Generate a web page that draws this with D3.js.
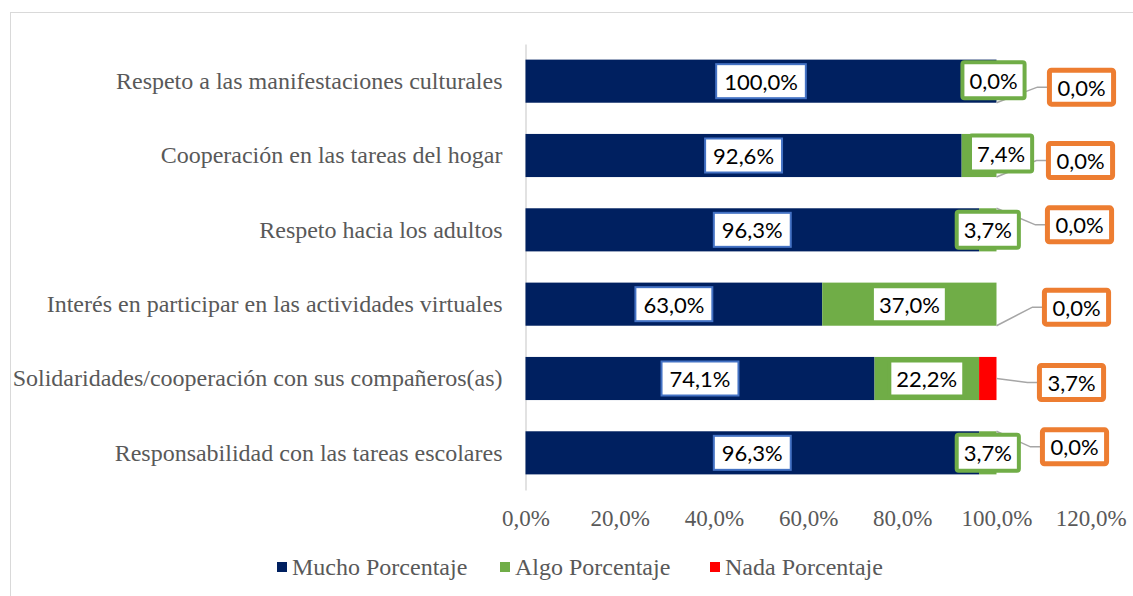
<!DOCTYPE html>
<html lang="es">
<head>
  <meta charset="UTF-8">
  <title>Mucho / Algo / Nada Porcentaje</title>
  <script src="https://d3js.org/d3.v7.min.js"></script>
  <style>
    body { margin: 0; background: #fff; }
    svg { display: block; }
  </style>
</head>
<body>
  <svg width="1133" height="596"></svg>

  <script>
    // datos (de arriba hacia abajo)
    const categories = [
      "Respeto a las manifestaciones culturales",
      "Cooperación en las tareas del hogar",
      "Respeto hacia los adultos",
      "Interés en participar en las actividades virtuales",
      "Solidaridades/cooperación con sus compañeros(as)",
      "Responsabilidad con las tareas escolares"
    ];
    const mucho = [100.0, 92.6, 96.3, 63.0, 74.1, 96.3];
    const algo  = [0.0, 7.4, 3.7, 37.0, 22.2, 3.7];
    const nada  = [0.0, 0.0, 0.0, 0.0, 3.7, 0.0];
    const seriesNames = ["Mucho Porcentaje", "Algo Porcentaje", "Nada Porcentaje"];
    const xTicks = [0, 20, 40, 60, 80, 100, 120];

    // desplazamiento manual de etiquetas (como en la hoja original)
    const algoNudge = [[-3, -1], [22, -2], [0, 0], [0, 0], [0, 0], [0, 0]];
    const nadaNudge = [[85, 6], [84, 5], [83, -5], [80, 3], [75, 4], [78, -6]];

    const colors = ["#002060", "#70AD47", "#FF0000"];
    const boxStroke = ["#4472C4", "#70AD47", "#ED7D31"];

    const svg = d3.select("svg");
    const serif = "'Liberation Serif', 'Times New Roman', serif";
    const sans = "Lato, 'Open Sans', sans-serif";

    // marco del gráfico
    svg.append("rect")
       .attr("x", 10.5).attr("y", 12.5)
       .attr("width", 1140).attr("height", 600)
       .attr("fill", "none").attr("stroke", "#D9D9D9");

    const x = d3.scaleLinear().domain([0, 120]).range([525.5, 1090.7]);
    const y = d3.scaleBand().domain(categories).range([44, 490])
                .paddingInner(0.42).paddingOuter(0.21);

    const rows = categories.map((c, i) => ({ cat: c, m: mucho[i], a: algo[i], n: nada[i] }));
    const stack = d3.stack().keys(["m", "a", "n"]);
    const layers = stack(rows);

    const fmt = d3.formatLocale({ decimal: ",", thousands: ".", grouping: [3], currency: ["", "€"] }).format(".1f");

    // eje X (solo etiquetas)
    const xAxis = svg.append("g")
      .attr("transform", "translate(0,490)")
      .call(d3.axisBottom(x).tickValues(xTicks).tickSize(0).tickPadding(20).tickFormat(d => fmt(d) + "%"));
    xAxis.select(".domain").remove();
    xAxis.selectAll("text").attr("font-family", serif).attr("font-size", 23).attr("fill", "#595959");

    // eje Y con categorías
    const yAxis = svg.append("g")
      .attr("transform", "translate(" + x(0) + ",0)")
      .call(d3.axisLeft(y).tickSize(0).tickSizeOuter(0).tickPadding(23));
    yAxis.select(".domain").attr("stroke", "#D9D9D9").attr("stroke-width", 1.5);
    yAxis.selectAll("text").attr("font-family", serif).attr("font-size", 24).attr("fill", "#595959");

    // barras apiladas
    svg.append("g").selectAll("g")
      .data(layers).join("g")
        .attr("fill", (d, i) => colors[i])
      .selectAll("rect")
      .data(d => d).join("rect")
        .attr("x", d => x(d[0]))
        .attr("y", d => y(d.data.cat))
        .attr("width", d => x(d[1]) - x(d[0]))
        .attr("height", y.bandwidth());

    const bw = y.bandwidth();
    const cy = c => y(c) + bw / 2;

    const nadaPos = layers[2].map((d, i) => ({
      d: d, i: i,
      cx: x(d[1]) + nadaNudge[i][0],
      cy: cy(d.data.cat) + nadaNudge[i][1]
    }));

    // cuadros de etiquetas
    function labelBox(g, text, cxp, cyp, k) {
      const t = g.append("text")
        .attr("x", cxp).attr("y", cyp)
        .attr("text-anchor", "middle").attr("dominant-baseline", "central")
        .attr("font-family", sans).attr("font-size", 22).attr("fill", "#000")
        .text(text);
      const tw = t.node().getComputedTextLength();
      const pad = [16, 14, 16][k];
      const h = [34, 36, 34][k];
      const sw = [2, 4, 5][k];
      g.insert("rect", "text")
        .attr("x", cxp - (tw + pad) / 2).attr("y", cyp - h / 2)
        .attr("width", tw + pad).attr("height", h)
        .attr("fill", "#fff").attr("stroke", boxStroke[k]).attr("stroke-width", sw)
        .attr("rx", k === 0 ? 0 : 2);
      return tw + pad;
    }

    // líneas guía para las etiquetas de "Nada"
    const leaders = svg.append("g").attr("fill", "none").attr("stroke", "#A6A6A6").attr("stroke-width", 1.5);

    // Mucho
    layers[0].forEach(d => {
      const g = svg.append("g");
      labelBox(g, fmt(d.data.m) + "%", (x(d[0]) + x(d[1])) / 2, cy(d.data.cat), 0);
    });

    // Algo
    layers[1].forEach((d, i) => {
      const g = svg.append("g");
      labelBox(g, fmt(d.data.a) + "%", (x(d[0]) + x(d[1])) / 2 + algoNudge[i][0], cy(d.data.cat) + algoNudge[i][1], 1);
    });

    // Nada (con línea guía)
    nadaPos.forEach(p => {
      const g = svg.append("g");
      const w = labelBox(g, fmt(p.d.data.n) + "%", p.cx, p.cy, 2);
      const left = p.cx - w / 2 - 2;
      const x0 = x(p.d[1]);
      const y0 = p.d.data.n > 0 ? cy(p.d.data.cat)
               : cy(p.d.data.cat) + (p.cy > cy(p.d.data.cat) ? bw / 2 : -bw / 2);
      leaders.append("path")
        .attr("d", d3.line()([[x0, y0], [left - 10, p.cy], [left, p.cy]]));
    });
    leaders.raise();
    svg.selectAll("g").filter(function() { return this.parentNode === svg.node() && this.querySelector("text") && this.childNodes.length === 2; }).raise();

    // leyenda
    const legend = svg.append("g").attr("transform", "translate(0,567)");
    const legendX = [277, 500, 710];
    seriesNames.forEach((s, i) => {
      const g = legend.append("g").attr("transform", "translate(" + legendX[i] + ",0)");
      g.append("rect").attr("x", 0).attr("y", -5).attr("width", 10).attr("height", 10).attr("fill", colors[i]);
      g.append("text").attr("x", 15).attr("y", 0).attr("dominant-baseline", "central")
        .attr("font-family", serif).attr("font-size", 24).attr("fill", "#595959")
        .text(s);
    });
  </script>
</body>
</html>
